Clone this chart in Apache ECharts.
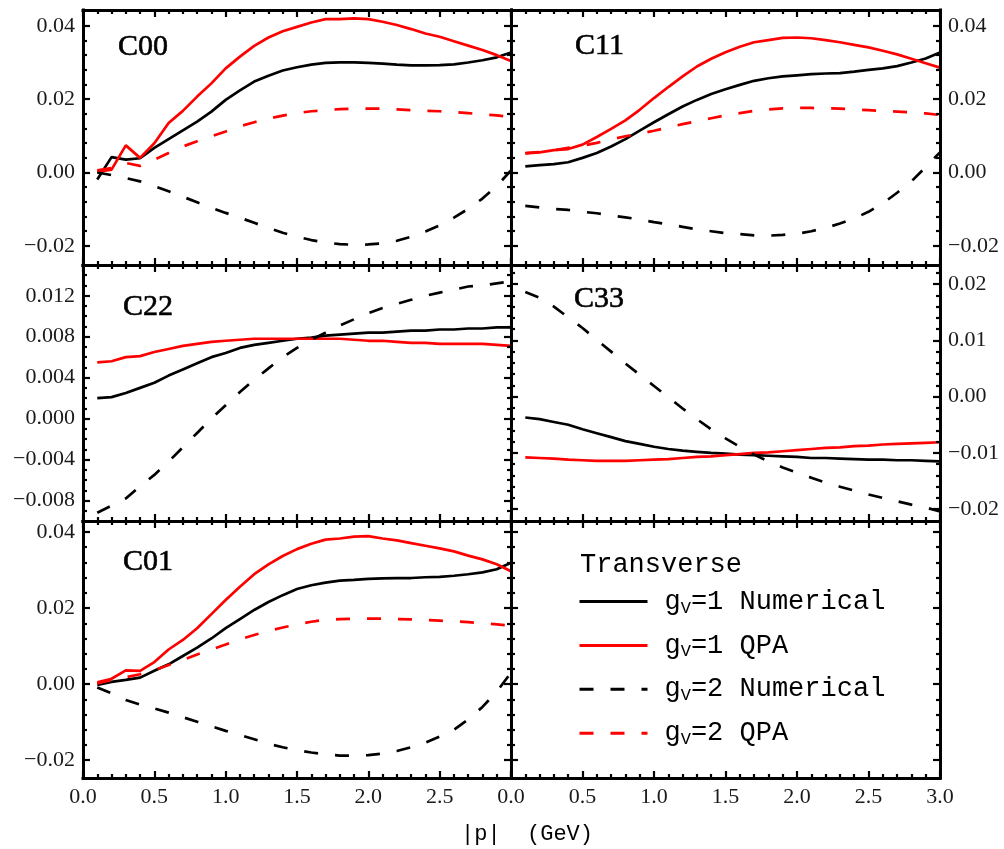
<!DOCTYPE html>
<html><head><meta charset="utf-8">
<script src="https://cdn.jsdelivr.net/npm/echarts@6/dist/echarts.min.js"></script>
<style>html,body{margin:0;padding:0;background:#fff}#c{width:1004px;height:849px}</style>
</head><body><div id="c"></div>
<script>
// ---------------- data ----------------
const P = [0.1,0.2,0.3,0.4,0.5,0.6,0.7,0.8,0.9,1.0,1.1,1.2,1.3,1.4,1.5,1.6,1.7,1.8,1.9,2.0,2.1,2.2,2.3,2.4,2.5,2.6,2.7,2.8,2.9,3.0];

const C00_N1 = [-0.0019,0.0042,0.0035,0.0039,0.0067,0.0091,0.0115,0.0139,0.0166,0.0198,0.0224,0.0248,0.0264,0.0278,0.0287,0.0294,0.0299,0.0300,0.0300,0.0299,0.0297,0.0294,0.0292,0.0292,0.0293,0.0295,0.0300,0.0306,0.0314,0.0327];
const C00_Q1 = [0.0002,0.0008,0.0074,0.0040,0.0080,0.0135,0.0168,0.0207,0.0243,0.0284,0.0316,0.0345,0.0368,0.0385,0.0397,0.0409,0.0418,0.0418,0.0420,0.0418,0.0411,0.0402,0.0391,0.0379,0.0370,0.0358,0.0346,0.0334,0.0320,0.0304];
const C00_N2 = [0.0000,-0.0007,-0.0015,-0.0024,-0.0037,-0.0051,-0.0066,-0.0081,-0.0096,-0.0110,-0.0123,-0.0137,-0.0151,-0.0164,-0.0175,-0.0184,-0.0191,-0.0195,-0.0197,-0.0196,-0.0193,-0.0186,-0.0175,-0.0161,-0.0144,-0.0123,-0.0099,-0.0071,-0.0037,0.0006];
const C00_Q2 = [0.0006,0.0012,0.0026,0.0018,0.0035,0.0053,0.0071,0.0085,0.0099,0.0112,0.0126,0.0137,0.0147,0.0155,0.0162,0.0167,0.0170,0.0173,0.0174,0.0174,0.0174,0.0172,0.0170,0.0168,0.0167,0.0165,0.0162,0.0158,0.0156,0.0151];

const C11_N1 = [0.0017,0.0020,0.0023,0.0028,0.0040,0.0053,0.0071,0.0091,0.0114,0.0137,0.0159,0.0180,0.0198,0.0214,0.0227,0.0239,0.0250,0.0257,0.0262,0.0265,0.0268,0.0270,0.0271,0.0275,0.0280,0.0284,0.0290,0.0300,0.0311,0.0327];
const C11_Q1 = [0.0052,0.0055,0.0061,0.0064,0.0076,0.0097,0.0119,0.0142,0.0171,0.0203,0.0233,0.0262,0.0289,0.0310,0.0328,0.0343,0.0355,0.0361,0.0367,0.0368,0.0366,0.0361,0.0355,0.0348,0.0341,0.0332,0.0322,0.0310,0.0298,0.0286];
const C11_N2 = [-0.0091,-0.0095,-0.0099,-0.0102,-0.0107,-0.0111,-0.0117,-0.0122,-0.0128,-0.0135,-0.0141,-0.0148,-0.0155,-0.0160,-0.0165,-0.0168,-0.0171,-0.0172,-0.0170,-0.0167,-0.0160,-0.0151,-0.0139,-0.0125,-0.0107,-0.0084,-0.0055,-0.0024,0.0015,0.0055];
const C11_Q2 = [0.0053,0.0056,0.0061,0.0067,0.0073,0.0081,0.0090,0.0099,0.0106,0.0114,0.0123,0.0132,0.0140,0.0148,0.0156,0.0162,0.0168,0.0172,0.0175,0.0176,0.0176,0.0175,0.0174,0.0172,0.0170,0.0168,0.0166,0.0164,0.0161,0.0157];

const C22_N1 = [0.0020,0.0021,0.0025,0.0030,0.0035,0.0042,0.0048,0.0054,0.0060,0.0064,0.0069,0.0072,0.0074,0.0076,0.0078,0.0079,0.0081,0.0082,0.0083,0.0084,0.0084,0.0085,0.0086,0.0086,0.0087,0.0087,0.0088,0.0088,0.0089,0.0089];
const C22_Q1 = [0.0055,0.0056,0.0060,0.0061,0.0065,0.0068,0.0071,0.0073,0.0075,0.0076,0.0077,0.0078,0.0078,0.0078,0.0078,0.0078,0.0078,0.0078,0.0077,0.0076,0.0076,0.0075,0.0074,0.0074,0.0073,0.0073,0.0073,0.0073,0.0072,0.0071];
const C22_N2 = [-0.0092,-0.0085,-0.0078,-0.0066,-0.0055,-0.0042,-0.0028,-0.0014,0.0000,0.0013,0.0026,0.0038,0.0049,0.0060,0.0069,0.0077,0.0084,0.0091,0.0097,0.0103,0.0108,0.0112,0.0116,0.0120,0.0123,0.0126,0.0129,0.0130,0.0132,0.0134];

const C33_N1 = [-0.0037,-0.0040,-0.0045,-0.0050,-0.0058,-0.0065,-0.0072,-0.0079,-0.0084,-0.0089,-0.0093,-0.0096,-0.0098,-0.0100,-0.0101,-0.0103,-0.0104,-0.0105,-0.0106,-0.0107,-0.0109,-0.0109,-0.0110,-0.0111,-0.0112,-0.0112,-0.0113,-0.0113,-0.0114,-0.0115];
const C33_Q1 = [-0.0108,-0.0109,-0.0110,-0.0112,-0.0113,-0.0114,-0.0114,-0.0114,-0.0113,-0.0112,-0.0111,-0.0109,-0.0107,-0.0106,-0.0104,-0.0102,-0.0100,-0.0099,-0.0097,-0.0095,-0.0093,-0.0091,-0.0090,-0.0088,-0.0087,-0.0085,-0.0084,-0.0083,-0.0082,-0.0081];
const C33_N2 = [0.0186,0.0176,0.0160,0.0141,0.0122,0.0101,0.0080,0.0059,0.0039,0.0019,-0.0001,-0.0021,-0.0040,-0.0058,-0.0074,-0.0089,-0.0103,-0.0115,-0.0126,-0.0135,-0.0144,-0.0153,-0.0160,-0.0167,-0.0174,-0.0180,-0.0186,-0.0192,-0.0197,-0.0204];

const C01_N1 = [-0.0002,0.0006,0.0011,0.0017,0.0035,0.0052,0.0074,0.0096,0.0120,0.0147,0.0171,0.0195,0.0216,0.0234,0.0250,0.0260,0.0267,0.0272,0.0274,0.0277,0.0278,0.0279,0.0279,0.0281,0.0282,0.0285,0.0289,0.0294,0.0302,0.0319];
const C01_Q1 = [0.0005,0.0014,0.0036,0.0035,0.0058,0.0091,0.0116,0.0147,0.0184,0.0221,0.0256,0.0289,0.0315,0.0337,0.0355,0.0369,0.0380,0.0383,0.0388,0.0389,0.0383,0.0378,0.0371,0.0364,0.0357,0.0349,0.0338,0.0328,0.0315,0.0297];
const C01_N2 = [-0.0009,-0.0024,-0.0042,-0.0054,-0.0064,-0.0075,-0.0087,-0.0099,-0.0111,-0.0123,-0.0134,-0.0145,-0.0157,-0.0166,-0.0174,-0.0180,-0.0185,-0.0188,-0.0188,-0.0187,-0.0183,-0.0176,-0.0166,-0.0154,-0.0138,-0.0120,-0.0093,-0.0060,-0.0020,0.0030];
const C01_Q2 = [0.0002,0.0011,0.0018,0.0026,0.0037,0.0050,0.0063,0.0078,0.0091,0.0104,0.0118,0.0129,0.0140,0.0149,0.0157,0.0164,0.0169,0.0171,0.0172,0.0172,0.0172,0.0171,0.0170,0.0169,0.0167,0.0165,0.0163,0.0160,0.0157,0.0154];

const SERIES_NAMES = ['gV=1 Numerical','gV=1 QPA','gV=2 Numerical','gV=2 QPA'];
const PANEL_NAMES = ['C00','C11','C22','C33','C01'];

const X_TICKS = [0,0.5,1,1.5,2,2.5,3];
const X_LABELS_LEFT = [0,0.5,1,1.5,2,2.5];
const X_LABELS_RIGHT = [0,0.5,1,1.5,2,2.5,3];
const Y_TICKS_C00 = [-0.02,0,0.02,0.04];
const Y_TICKS_C11 = [-0.02,0,0.02,0.04];
const Y_TICKS_C22 = [-0.008,-0.004,0,0.004,0.008,0.012];
const Y_TICKS_C33 = [-0.02,-0.01,0,0.01,0.02];
const Y_TICKS_C01 = [-0.02,0,0.02,0.04];

// ---------------- layout / style ----------------
const MONO = 'Liberation Mono';
const SERIF = 'Liberation Serif';
const BORDER = 3, TICKW = 2.2, MAJ = 7, MIN = 4;
const STYLES = [
  {color:'#000000', type:'solid'},
  {color:'#ff0000', type:'solid'},
  {color:'#000000', type:[14,17]},
  {color:'#ff0000', type:[14,17]}
];

const PANELS = [
  {grid:{left:83,top:10,width:428,height:255}, y:[-0.0252,0.0443], yt:Y_TICKS_C00, step:0.004, dec:2, side:'left', xl:null, data:[C00_N1,C00_Q1,C00_N2,C00_Q2], lab:[118,47]},
  {grid:{left:511,top:10,width:429,height:255}, y:[-0.0252,0.0443], yt:Y_TICKS_C11, step:0.004, dec:2, side:'right', xl:null, data:[C11_N1,C11_Q1,C11_N2,C11_Q2], lab:[575,46]},
  {grid:{left:83,top:265,width:428,height:256}, y:[-0.010,0.015], yt:Y_TICKS_C22, step:0.001, dec:3, side:'left', xl:null, data:[C22_N1,C22_Q1,C22_N2,null], lab:[123,307]},
  {grid:{left:511,top:265,width:429,height:256}, y:[-0.0221,0.0234], yt:Y_TICKS_C33, step:0.002, dec:2, side:'right', xl:null, data:[C33_N1,C33_Q1,C33_N2,null], lab:[574,299]},
  {grid:{left:83,top:521,width:428,height:257}, y:[-0.0247,0.0429], yt:Y_TICKS_C01, step:0.004, dec:2, side:'left', xl:X_LABELS_LEFT, data:[C01_N1,C01_Q1,C01_N2,C01_Q2], lab:[123,562]},
  {grid:{left:511,top:521,width:429,height:257}, y:[-0.0247,0.0429], yt:Y_TICKS_C01, step:0.004, dec:2, side:null, xl:X_LABELS_RIGHT, data:[], lab:null}
];

function fmt(v, d) {
  const s = Math.abs(v).toFixed(d);
  return (v < -1e-12 ? '\u2212' : '') + s;
}
function minorVals(min, max, step, majors) {
  const out = [];
  const k0 = Math.ceil(min / step - 1e-9), k1 = Math.floor(max / step + 1e-9);
  for (let k = k0; k <= k1; k++) {
    const v = +(k * step).toFixed(6);
    if (majors.some(m => Math.abs(m - v) < 1e-9)) continue;
    if (v - min < step * 0.3 || max - v < step * 0.3) continue;
    out.push(v);
  }
  return out;
}

const grids = [], xAxes = [], yAxes = [], series = [], graphics = [];

function addAxis(list, g, pos, range, ticks, len, showLine, labels, dec) {
  const ax = {
    type: 'value', gridIndex: g, position: pos, min: range[0], max: range[1],
    axisLine: {show: showLine, onZero: false, lineStyle: {color: '#000', width: BORDER, cap: 'square'}},
    axisTick: {show: true, inside: true, length: len, customValues: ticks, lineStyle: {color: '#000', width: TICKW}},
    axisLabel: {show: false},
    splitLine: {show: false}, minorTick: {show: false}, silent: true, z: 3
  };
  if (labels) {
    ax.axisLabel = {show: true, customValues: labels, formatter: v => fmt(v, dec),
      fontFamily: SERIF, fontSize: 22, color: '#1a1a1a', margin: 8};
  }
  list.push(ax);
  return list.length - 1;
}

PANELS.forEach((p, g) => {
  grids.push(Object.assign({containLabel: false, outerBoundsMode: 'none', show: false}, p.grid));
  const xr = [0, 3];
  const xMinor = minorVals(0, 3, 0.1, X_TICKS);
  const yMinor = minorVals(p.y[0], p.y[1], p.step, p.yt);
  const xi = addAxis(xAxes, g, 'bottom', xr, X_TICKS, MAJ, true, p.xl, 1);
  addAxis(xAxes, g, 'bottom', xr, xMinor, MIN, false, null);
  addAxis(xAxes, g, 'top', xr, X_TICKS, MAJ, true, null);
  addAxis(xAxes, g, 'top', xr, xMinor, MIN, false, null);
  const yi = addAxis(yAxes, g, 'left', p.y, p.yt, MAJ, true, p.side === 'left' ? p.yt : null, p.dec);
  addAxis(yAxes, g, 'left', p.y, yMinor, MIN, false, null);
  addAxis(yAxes, g, 'right', p.y, p.yt, MAJ, true, p.side === 'right' ? p.yt : null, p.dec);
  addAxis(yAxes, g, 'right', p.y, yMinor, MIN, false, null);
  p.data.forEach((arr, k) => {
    if (!arr) return;
    series.push({
      type: 'line', name: SERIES_NAMES[k], xAxisIndex: xi, yAxisIndex: yi,
      data: P.map((x, i) => [x, arr[i]]),
      symbol: 'none', showSymbol: false, smooth: false, silent: true, animation: false, z: 2,
      itemStyle: {color: STYLES[k].color},
      lineStyle: {color: STYLES[k].color, width: 2.7, type: STYLES[k].type, cap: 'butt'}
    });
  });
  if (p.lab) {
    graphics.push({type: 'text', x: p.lab[0], y: p.lab[1], z: 10,
      style: {text: PANEL_NAMES[g], fontFamily: SERIF, fontSize: 30, fill: '#000', verticalAlign: 'middle', align: 'left',
        stroke: '#000', lineWidth: 0.6}});
  }
});

graphics.push({type: 'text', x: 580, y: 565, z: 10,
  style: {text: 'Transverse', fontFamily: MONO, fontSize: 27, fill: '#000', verticalAlign: 'middle', align: 'left'}});
graphics.push({type: 'text', x: 527, y: 834, z: 10,
  style: {text: '|p|  (GeV)', fontFamily: MONO, fontSize: 22, fill: '#000', verticalAlign: 'middle', align: 'center'}});

const chart = echarts.init(document.getElementById('c'), null, {renderer: 'canvas'});
chart.setOption({
  backgroundColor: '#fff',
  animation: false,
  grid: grids,
  xAxis: xAxes,
  yAxis: yAxes,
  series: series,
  graphic: graphics,
  legend: {
    data: SERIES_NAMES, orient: 'vertical', left: 578, top: 588, padding: 0,
    itemWidth: 68, itemHeight: 14, itemGap: 15.4, selectedMode: false,
    lineStyle: {width: 3},
    itemStyle: {color: 'rgba(0,0,0,0)', borderWidth: 0, opacity: 0},
    formatter: n => '{sp|}{t|g}{s|V}{t|' + n.slice(2) + '}',
    textStyle: {
      rich: {
        sp: {width: 12},
        t: {fontFamily: MONO, fontSize: 27, lineHeight: 30, color: '#000'},
        s: {fontFamily: MONO, fontSize: 17, lineHeight: 4, verticalAlign: 'bottom', color: '#000'}
      }
    }
  }
});
</script>
</body></html>
